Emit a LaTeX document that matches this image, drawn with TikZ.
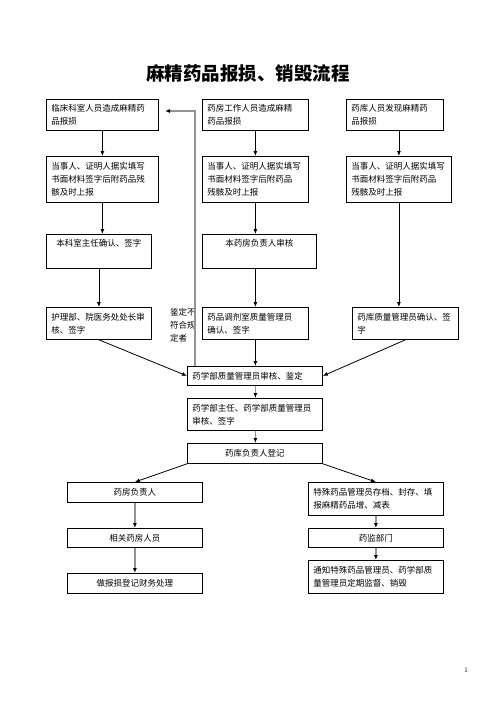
\documentclass[tikz,border=0pt]{standalone}
\usepackage{fontspec}
\newfontfamily\cjk{Noto Sans CJK SC}
\usepackage{tikz}
\usetikzlibrary{arrows.meta}

\begin{document}
\begin{tikzpicture}[
  x=1pt, y=-1pt,
  box/.style={draw, line width=0.8pt, anchor=north west, align=left, inner xsep=5pt, inner ysep=2pt,
    font=\cjk\fontsize{8.5}{13}\selectfont},
  cbox/.style={box, align=center},
  tbox/.style={cbox, text height=10pt, text depth=20pt},
  arrow/.style={-{Latex[length=5pt,width=4pt]}, line width=0.8pt},
  garrow/.style={-{Latex[length=5pt,width=4pt,black]}, line width=1.5pt, draw=gray!85}
]
\useasboundingbox (0,0) rectangle (496,702);

\node[font=\cjk\bfseries\fontsize{18.5}{22}\selectfont] (title) at (248,73) {麻精药品报损、销毁流程};

\node[box, text width=102pt, minimum height=31pt] (r1a) at (46,99) {临床科室人员造成麻精药\\品报损};
\node[box, text width=96pt, minimum height=31pt] (r1b) at (202,99) {药房工作人员造成麻精\\药品报损};
\node[box, text width=87pt, minimum height=31pt] (r1c) at (346,99) {药库人员发现麻精药\\品报损};

\node[box, text width=102pt, minimum height=46pt] (r2a) at (46,156) {当事人、证明人据实填写\\书面材料签字后附药品残\\骸及时上报};
\node[box, text width=96pt, minimum height=46pt] (r2b) at (202,156) {当事人、证明人据实填写\\书面材料签字后附药品\\残骸及时上报};
\node[box, text width=95pt, minimum height=46pt] (r2c) at (346,156) {当事人、证明人据实填写\\书面材料签字后附药品\\残骸及时上报};

\node[tbox, text width=95pt] (r3a) at (46,234) {本科室主任确认、签字};
\node[tbox, text width=104pt] (r3b) at (202,234) {本药房负责人审核};

\node[box, text width=95pt, minimum height=32pt] (r4a) at (46,307) {护理部、院医务处处长审\\核、签字};
\node[box, text width=96pt, minimum height=32pt] (r4b) at (202,307) {药品调剂室质量管理员\\确认、签字};
\node[box, text width=96pt, minimum height=32pt] (r4c) at (352,307) {药库质量管理员确认、签\\字};

\node[anchor=north west, inner sep=0pt, align=left, font=\cjk\fontsize{8.5}{13}\selectfont] (note) at (170,308) {鉴定不\\符合规\\定者};

\node[box, text width=125pt, minimum height=19pt] (r5) at (187,366) {药学部质量管理员审核、鉴定};
\node[box, text width=125pt, minimum height=32pt] (r6) at (187,398) {药学部主任、药学部质量管理员\\审核、签字};
\node[cbox, text width=125pt, minimum height=20pt] (r7) at (187,443) {药库负责人登记};

\node[cbox, text width=125pt, minimum height=20pt] (r8a) at (67,482) {药房负责人};
\node[cbox, text width=125pt, minimum height=19pt] (r9a) at (67,528) {相关药房人员};
\node[cbox, text width=125pt, minimum height=20pt] (r10a) at (67,573) {做报损登记财务处理};

\node[box, text width=125pt, minimum height=33pt] (r8b) at (308,482) {特殊药品管理员存档、封存、填\\报麻精药品增、减表};
\node[cbox, text width=125pt, minimum height=19pt] (r9b) at (308,528) {药监部门};
\node[box, text width=125pt, minimum height=33pt] (r10b) at (308,560) {通知特殊药品管理员、药学部质\\量管理员定期监督、销毁};

\node[font=\fontsize{7}{8}\selectfont, inner sep=0pt] (pg) at (466,670) {1};

\draw[arrow] (r1a.south) -- (r2a.north);
\draw[arrow] (r2a.south) -- (r2a.south |- r3a.north);
\draw[arrow] (r3a.south) -- (r4a.north);
\draw[arrow] (r1b.south) -- (r2b.north);
\draw[arrow] (r2b.south) -- (r2b.south |- r3b.north);
\draw[arrow] (r3b.south -| r4b.north) -- (r4b.north);
\draw[arrow] (r1c.south -| r2c.north) -- (r2c.north);
\draw[arrow] (r2c.south) -- (r2c.south |- r4c.north);

\draw[arrow] (r4a.south) -- (r5.west);
\draw[arrow] (r4b.south) -- (r5.north -| r4b.south);
\draw[arrow] (r4c.south) -- (r5.east);

% back to the first column
\coordinate (fbtop) at (195,111);
\coordinate (fbend) at (165,111);
\draw[garrow] (r5.north -| fbtop) -- (fbtop) -- (fbend);

\draw[garrow] (r5.south -| r4b.south) -- (r6.north -| r4b.south);
\draw[garrow] (r6.south -| r4b.south) -- (r7.north -| r4b.south);

\draw[arrow] (r7.south west) -- (r8a.north);
\draw[arrow] (r7.south east) -- (r8b.north);

\draw[garrow] (r8a) -- (r9a);
\draw[garrow] (r9a) -- (r10a);
\draw[garrow] (r8b) -- (r9b);
\draw[garrow] (r9b) -- (r10b);
\end{tikzpicture}
\end{document}
